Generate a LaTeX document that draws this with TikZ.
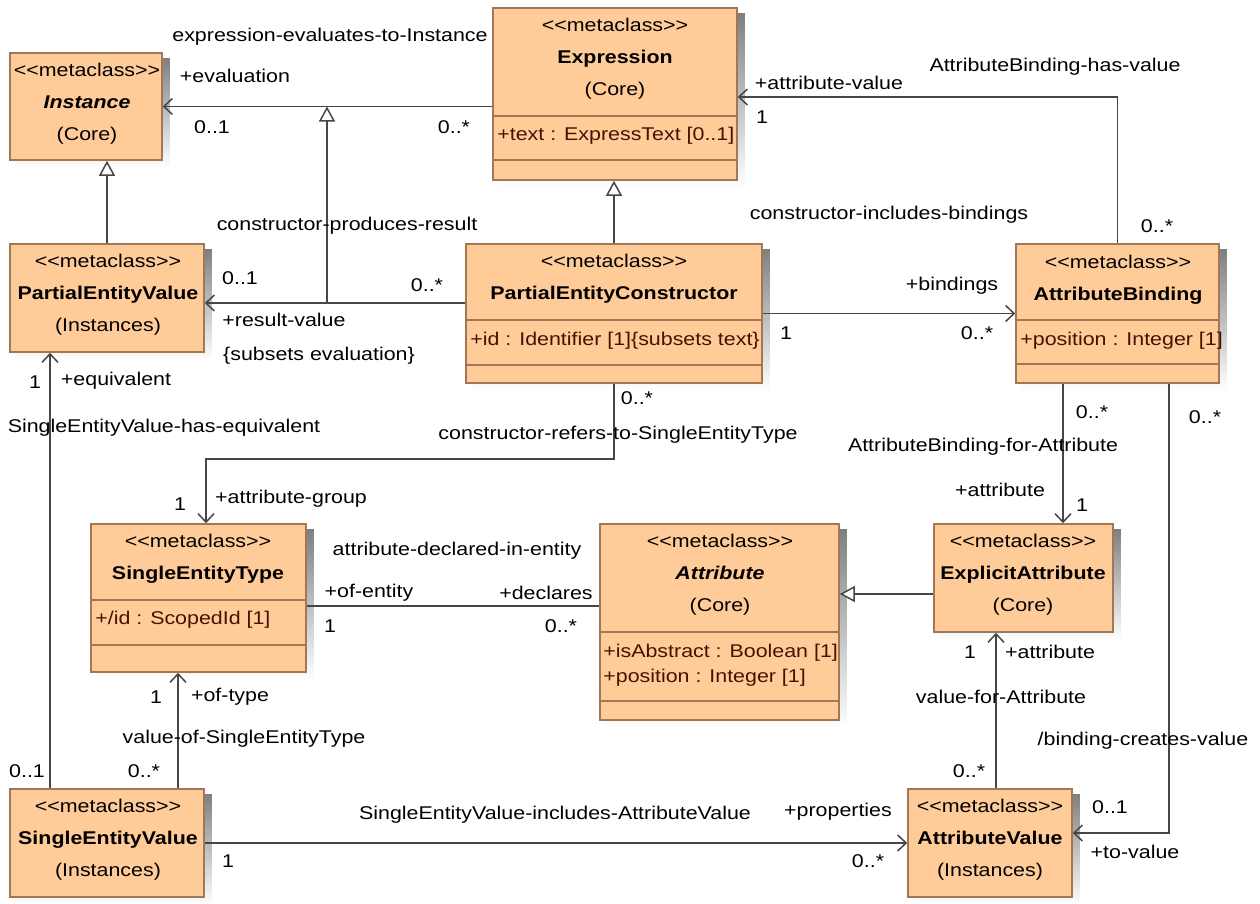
\documentclass[tikz,border=0pt]{standalone}
\usepackage{fontspec}
\newfontfamily\umlfont{Liberation Sans}[FakeStretch=1.16]
\usetikzlibrary{arrows.meta,fit,calc,backgrounds}
\definecolor{clsfill}{RGB}{255,204,153}
\definecolor{clsline}{RGB}{160,120,85}
\definecolor{attrtext}{RGB}{70,18,0}
\definecolor{wire}{RGB}{70,70,70}
\definecolor{shade}{RGB}{180,180,180}

\begin{document}
\begin{tikzpicture}[x=0.02cm, y=-0.02cm,
  font=\umlfont\fontsize{10.5}{18.2}\selectfont,
  cls/.style={draw=clsline, line width=0.9pt, fill=clsfill, inner sep=0pt},
  hdr/.style={anchor=north, align=center, inner sep=0pt},
  attr/.style={anchor=base west, inner sep=0pt, text=attrtext},
  cline/.style={draw=clsline, line width=0.9pt},
  lbl/.style={inner sep=0pt},
  assoc/.style={draw=wire, line width=0.85pt},
  nav/.style={assoc, -{Straight Barb[length=0.17cm, width=0.32cm]}},
  gen/.style={assoc, -{Triangle[open, length=0.3cm, width=0.32cm, fill=white]}}]
  \useasboundingbox (0,0) rectangle (1260,903);

  % classes
  \node[cls, fit={(10,53) (162,160)}] (inst) {};
  \node[cls, fit={(493,8) (737,180)}] (expr) {};
  \node[cls, fit={(10,244) (204,352)}] (pev) {};
  \node[cls, fit={(466,244) (762,383)}] (pec) {};
  \node[cls, fit={(1016,244) (1219,383)}] (ab) {};
  \node[cls, fit={(91,524) (306,672)}] (set) {};
  \node[cls, fit={(600,524) (839,720)}] (attr) {};
  \node[cls, fit={(934,524) (1113,632)}] (ea) {};
  \node[cls, fit={(10,789) (204,897)}] (sev) {};
  \node[cls, fit={(908,789) (1072,897)}] (av) {};

  % shadows
  \begin{scope}[on background layer]
    \foreach \b in {inst,expr,pev,pec,ab,set,attr,ea,sev,av}
      \fill[shade] ($(\b.south west)+(6,7)$) rectangle ($(\b.north east)+(7,6)$);
  \end{scope}

  % compartments
  \draw[cline] (493,116) -- (737,116) (493,160) -- (737,160);
  \draw[cline] (466,320) -- (762,320) (466,365) -- (762,365);
  \draw[cline] (1016,320) -- (1219,320) (1016,364) -- (1219,364);
  \draw[cline] (91,600) -- (306,600) (91,645) -- (306,645);
  \draw[cline] (600,632) -- (839,632) (600,701) -- (839,701);

  % class names
  \node[hdr] (inst-h) at (87,63) {<<metaclass>>\\\textbf{\textit{Instance}}\\(Core)};
  \node[hdr] (expr-h) at (615,18) {<<metaclass>>\\\textbf{Expression}\\(Core)};
  \node[hdr] (pev-h) at (108,254) {<<metaclass>>\\\textbf{PartialEntityValue}\\(Instances)};
  \node[hdr] (pec-h) at (614,254) {<<metaclass>>\\\textbf{PartialEntityConstructor}};
  \node[hdr] (ab-h) at (1118,255) {<<metaclass>>\\\textbf{AttributeBinding}};
  \node[hdr] (set-h) at (198,534) {<<metaclass>>\\\textbf{SingleEntityType}};
  \node[hdr] (attr-h) at (720,534) {<<metaclass>>\\\textbf{\textit{Attribute}}\\(Core)};
  \node[hdr] (ea-h) at (1023,534) {<<metaclass>>\\\textbf{ExplicitAttribute}\\(Core)};
  \node[hdr] (sev-h) at (108,799) {<<metaclass>>\\\textbf{SingleEntityValue}\\(Instances)};
  \node[hdr] (av-h) at (990,799) {<<metaclass>>\\\textbf{AttributeValue}\\(Instances)};

  % attributes
  \node[attr] (expr-a) at (497,140) {+text : ExpressText [0..1]};
  \node[attr] (pec-a) at (470,345) {+id : Identifier [1]\{subsets text\}};
  \node[attr] (ab-a) at (1020,345) {+position : Integer [1]};
  \node[attr] (set-a) at (95,624) {+/id : ScopedId [1]};
  \node[attr] (attr-a) at (603,657) {+isAbstract : Boolean [1]};
  \node[attr] (attr-b) at (603,682) {+position : Integer [1]};

  % generalizations
  \draw[gen] (pev.north) -- (pev.north |- inst.south);
  \draw[gen] (pec.north) -- (pec.north |- expr.south);
  \coordinate (ga) at (880,594);
  \draw[gen] (ea.west |- ga) -- (attr.east |- ga);

  % expression-evaluates-to-Instance
  \draw[nav] (expr.west |- inst.east) -- (inst.east);
  \node[lbl] (ev-n) at (330,37) {expression-evaluates-to-Instance};
  \node[lbl] (ev-r) at (235,76) {+evaluation};
  \node[lbl] (ev-t) at (212,127) {0..1};
  \node[lbl] (ev-s) at (454,127) {0..*};

  % constructor-produces-result
  \coordinate (res) at (327,303);
  \draw[nav] (pec.west |- res) -- (pev.east |- res);
  \draw[gen] (res) -- (res |- inst.east);
  \node[lbl] (pr-n) at (347,226) {constructor-produces-result};
  \node[lbl] (pr-t) at (240,278) {0..1};
  \node[lbl] (pr-s) at (427,285) {0..*};
  \node[lbl] (pr-r) at (284,320) {+result-value};
  \node[lbl] (pr-c) at (319,356) {\{subsets evaluation\}};

  % AttributeBinding-has-value
  \coordinate (hv) at (1118,97);
  \draw[nav] (ab.north) |- (expr.east |- hv);
  \node[lbl] (hv-n) at (1055,67) {AttributeBinding-has-value};
  \node[lbl] (hv-r) at (829,83) {+attribute-value};
  \node[lbl] (hv-t) at (762,117) {1};
  \node[lbl] (hv-s) at (1157,226) {0..*};

  % constructor-includes-bindings
  \draw[nav] (pec.east) -- (ab.west);
  \node[lbl] (ib-n) at (889,215) {constructor-includes-bindings};
  \node[lbl] (ib-r) at (952,286) {+bindings};
  \node[lbl] (ib-s) at (786,333) {1};
  \node[lbl] (ib-t) at (977,333) {0..*};

  % constructor-refers-to-SingleEntityType
  \coordinate (rf) at (206,459);
  \draw[nav] (pec.south) |- (rf) -- (rf |- set.north);
  \node[lbl] (rf-s) at (637,398) {0..*};
  \node[lbl] (rf-n) at (618,435) {constructor-refers-to-SingleEntityType};
  \node[lbl] (rf-t) at (180,504) {1};
  \node[lbl] (rf-r) at (291,499) {+attribute-group};

  % AttributeBinding-for-Attribute
  \coordinate (fa) at (1063,450);
  \draw[nav] (ab.south -| fa) -- (ea.north -| fa);
  \node[lbl] (fa-s) at (1092,412) {0..*};
  \node[lbl] (fa-n) at (983,447) {AttributeBinding-for-Attribute};
  \node[lbl] (fa-r) at (1000,490) {+attribute};
  \node[lbl] (fa-t) at (1082,505) {1};

  % binding-creates-value
  \coordinate (bc) at (1169,833);
  \draw[nav] (ab.south -| bc) |- (av.east |- bc);
  \node[lbl] (bc-s) at (1205,417) {0..*};
  \node[lbl] (bc-n) at (1143,741) {/binding-creates-value};
  \node[lbl] (bc-t) at (1110,807) {0..1};
  \node[lbl] (bc-r) at (1135,852) {+to-value};

  % SingleEntityValue-has-equivalent
  \coordinate (eq) at (50,600);
  \draw[nav] (sev.north -| eq) -- (pev.south -| eq);
  \node[lbl] (eq-t) at (35,382) {1};
  \node[lbl] (eq-r) at (116,381) {+equivalent};
  \node[lbl] (eq-n) at (164,428) {SingleEntityValue-has-equivalent};
  \node[lbl] (eq-s) at (27,771) {0..1};

  % attribute-declared-in-entity
  \coordinate (di) at (450,606);
  \draw[assoc] (set.east |- di) -- (attr.west |- di);
  \node[lbl] (di-n) at (457,551) {attribute-declared-in-entity};
  \node[lbl] (di-r) at (369,593) {+of-entity};
  \node[lbl] (di-q) at (546,593) {+declares};
  \node[lbl] (di-s) at (330,626) {1};
  \node[lbl] (di-t) at (561,626) {0..*};

  % value-of-SingleEntityType
  \coordinate (vo) at (178,730);
  \draw[nav] (sev.north -| vo) -- (set.south -| vo);
  \node[lbl] (vo-t) at (156,697) {1};
  \node[lbl] (vo-r) at (230,697) {+of-type};
  \node[lbl] (vo-n) at (244,739) {value-of-SingleEntityType};
  \node[lbl] (vo-s) at (144,771) {0..*};

  % value-for-Attribute
  \coordinate (vf) at (996,700);
  \draw[nav] (av.north -| vf) -- (ea.south -| vf);
  \node[lbl] (vf-t) at (970,652) {1};
  \node[lbl] (vf-r) at (1050,652) {+attribute};
  \node[lbl] (vf-n) at (1001,697) {value-for-Attribute};
  \node[lbl] (vf-s) at (969,771) {0..*};

  % SingleEntityValue-includes-AttributeValue
  \draw[nav] (sev.east) -- (av.west);
  \node[lbl] (ia-n) at (555,815) {SingleEntityValue-includes-AttributeValue};
  \node[lbl] (ia-s) at (228,861) {1};
  \node[lbl] (ia-r) at (838,812) {+properties};
  \node[lbl] (ia-t) at (868,861) {0..*};
\end{tikzpicture}
\end{document}
